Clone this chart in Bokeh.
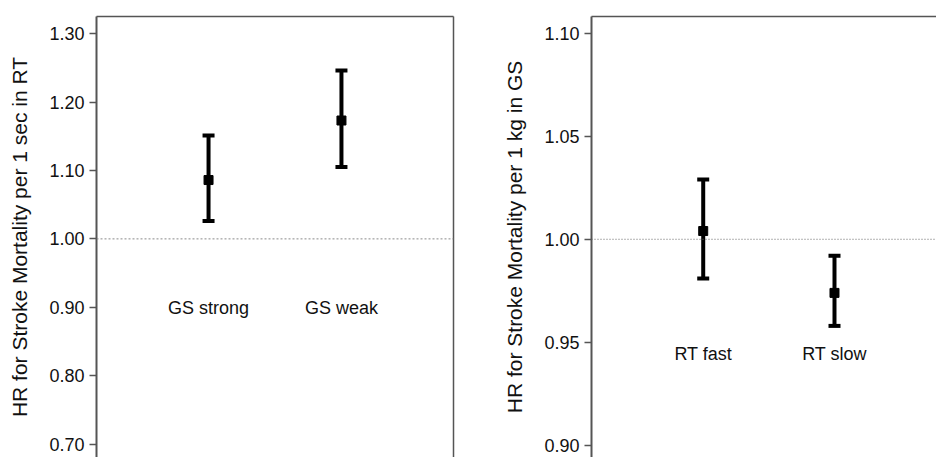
from bokeh.plotting import figure
from bokeh.models import (ColumnDataSource, Whisker, TeeHead, Span, LinearAxis,
                          FixedTicker, NumeralTickFormatter, Range1d)
from bokeh.layouts import row
from bokeh.embed import file_html
from bokeh.resources import INLINE
from bokeh.core.properties import value

# ---------------- data ----------------
left_categories = ["GS strong", "GS weak"]
left_hr = [1.086, 1.173]
left_lower = [1.026, 1.105]
left_upper = [1.151, 1.246]
left_ticks = [0.70, 0.80, 0.90, 1.00, 1.10, 1.20, 1.30]
left_ylabel = "HR for Stroke Mortality per 1 sec in RT"

right_categories = ["RT fast", "RT slow"]
right_hr = [1.004, 0.974]
right_lower = [0.981, 0.958]
right_upper = [1.029, 0.992]
right_ticks = [0.90, 0.95, 1.00, 1.05, 1.10]
right_ylabel = "HR for Stroke Mortality per 1 kg in GS"

reference_hr = 1.0

# ---------------- style ----------------
FONT = "Liberation Sans"
BORDER = "#555555"
HEIGHT = 457


def blank_axis():
    return LinearAxis(ticker=FixedTicker(ticks=[]), major_tick_out=0, major_tick_in=0,
                      minor_tick_out=0, minor_tick_in=0, major_label_text_font_size="0px",
                      major_label_standoff=0, axis_line_color=BORDER, axis_line_width=1.5)


def make_panel(cats, hr, lo, hi, ticks, ylabel, xr, yr, width, mbl, mbr, mbt,
               label_y, right_border, span_color, span_dash):
    p = figure(width=width, height=HEIGHT, output_backend="svg", toolbar_location=None,
               x_range=Range1d(*xr), y_range=Range1d(*yr), x_axis_type=None,
               min_border_left=mbl, min_border_right=mbr, min_border_top=mbt,
               min_border_bottom=0, outline_line_color=None,
               background_fill_color="white", border_fill_color="white")
    p.ygrid.grid_line_color = None

    ax = p.yaxis[0]
    ax.ticker = FixedTicker(ticks=ticks)
    ax.formatter = NumeralTickFormatter(format="0.00")
    ax.minor_tick_line_color = None
    ax.major_tick_out = 7
    ax.major_tick_in = 0
    ax.major_tick_line_color = BORDER
    ax.major_tick_line_width = 1.5
    ax.axis_line_color = BORDER
    ax.axis_line_width = 2
    ax.major_label_standoff = 5
    ax.major_label_text_font = FONT
    ax.major_label_text_font_size = "18px"
    ax.major_label_text_color = "#111111"
    ax.axis_label = ylabel
    ax.axis_label_text_font = FONT
    ax.axis_label_text_font_size = "21px"
    ax.axis_label_text_font_style = "normal"
    ax.axis_label_text_color = "#111111"
    ax.axis_label_standoff = 15

    p.add_layout(blank_axis(), "above")
    if right_border:
        p.add_layout(blank_axis(), "right")

    p.add_layout(Span(location=reference_hr, dimension="width", line_color=span_color,
                      line_width=1, line_dash=span_dash))

    xs = list(range(1, len(cats) + 1))
    src = ColumnDataSource(dict(x=xs, hr=hr, lo=lo, hi=hi, cat=cats,
                                ly=[label_y] * len(cats)))
    p.add_layout(Whisker(base="x", lower="lo", upper="hi", source=src,
                         line_width=4, line_color="black",
                         upper_head=TeeHead(size=12, line_width=4, line_color="black"),
                         lower_head=TeeHead(size=12, line_width=4, line_color="black")))
    p.scatter("x", "hr", source=src, marker="square", size=9,
              fill_color="black", line_color="black")
    p.text("x", "ly", text="cat", source=src, text_align="center",
           text_baseline="middle", text_font=value(FONT),
           text_font_size="18px", text_color="#111111")
    return p


left = make_panel(left_categories, left_hr, left_lower, left_upper, left_ticks,
                  left_ylabel, (0.157, 2.843), (0.6805, 1.325), 470, 96, 17, 11,
                  0.899, True, "#8a8a8a", "2 2")
right = make_panel(right_categories, right_hr, right_lower, right_upper, right_ticks,
                   right_ylabel, (0.149, 2.777), (0.8942, 1.108), 466, 121, 0, 16,
                   0.9445, False, "#666666", "1 2")

layout = row(left, right)
open("out.html", "w").write(file_html(layout, INLINE))
